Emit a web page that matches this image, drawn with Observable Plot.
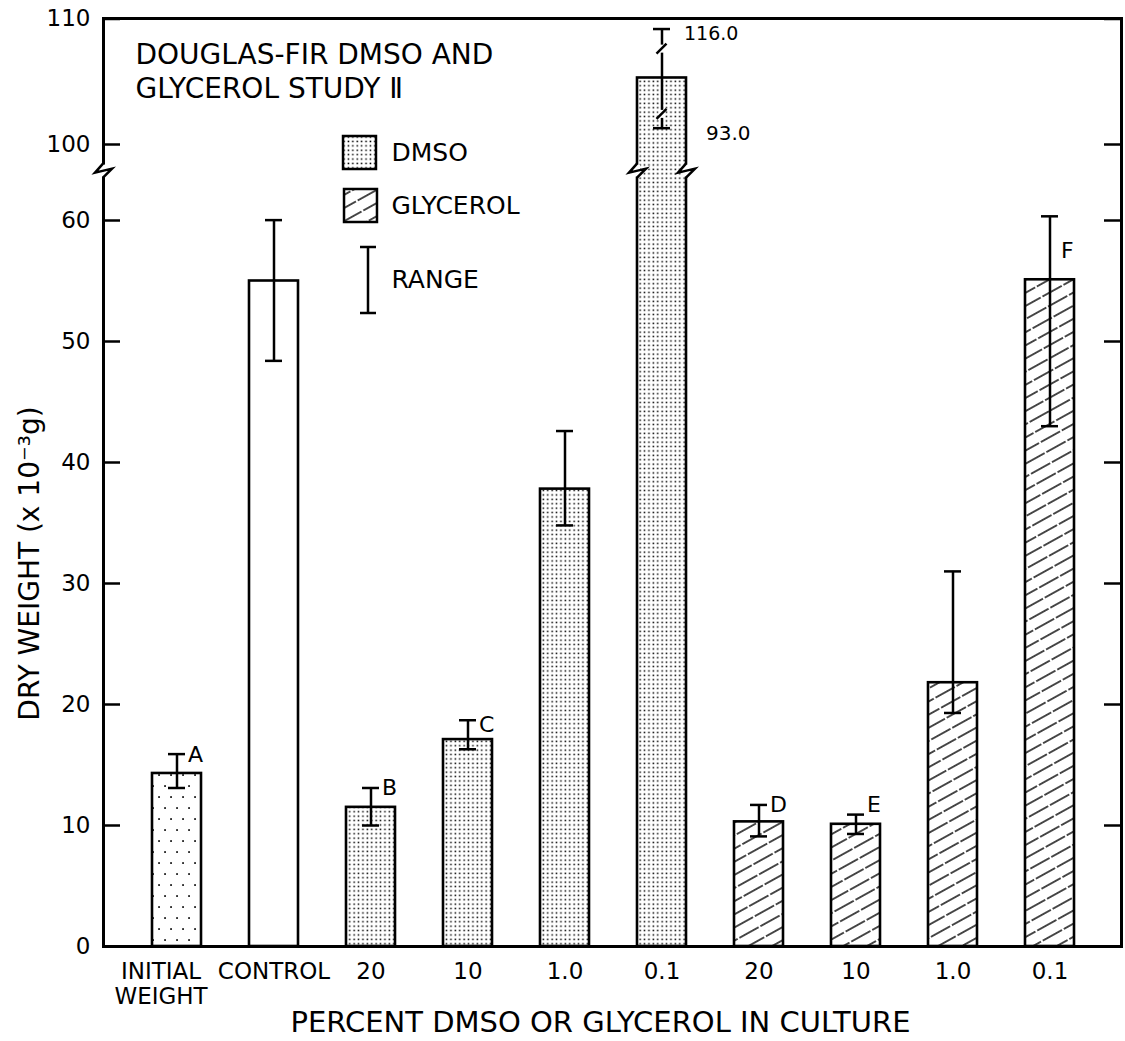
<!DOCTYPE html>
<html><head><meta charset="utf-8">
<script src="https://cdn.jsdelivr.net/npm/d3@7"></script>
<script src="https://cdn.jsdelivr.net/npm/@observablehq/plot@0.6"></script>
<style>
body{margin:0;background:#fff}
</style>
</head><body><div id="chart"></div>
<script>
// ---- data ----
const categories = ["INITIAL WEIGHT","CONTROL","DMSO 20","DMSO 10","DMSO 1.0","DMSO 0.1","GLYCEROL 20","GLYCEROL 10","GLYCEROL 1.0","GLYCEROL 0.1"];
const tickLabels = ["INITIAL\nWEIGHT","CONTROL","20","10","1.0","0.1","20","10","1.0","0.1"];
const treatment = ["initial","control","dmso","dmso","dmso","dmso","glycerol","glycerol","glycerol","glycerol"];
const meanWeight = [14.3,55.0,11.5,17.1,37.8,105.3,10.3,10.1,21.8,55.1];
const rangeLow  = [13.1,48.4,10.0,16.3,34.8,101.3,9.1,9.3,19.3,43.0];
const rangeHigh = [15.9,60.2,13.1,18.7,42.6,109.2,11.7,10.9,31.0,62.2];
const letters = ["A","","B","C","","","D","E","","F"];
const letterY = [15.8,null,13.1,18.3,null,null,11.7,11.7,null,57.5];
const yTicks = [0,10,20,30,40,50,60,100,110];
const yDomain = [0,60,100,110];
const axisBreak = 86;                 // value where the axis is broken
const brokenBars = ["DMSO 0.1"];
const rangeBreaks = [107.6,102.4];     // slashes on the broken range bar
const offScaleNotes = [{key:"DMSO 0.1", y:108.8, label:"116.0"}];
const offScaleNotes2 = [{key:"DMSO 0.1", y:100.9, label:"93.0"}];
const titleText = "DOUGLAS-FIR DMSO AND\nGLYCEROL STUDY \u2161";
const yLabel = "DRY WEIGHT (x 10\u207B\u00B3g)";
const xLabel = "PERCENT DMSO OR GLYCEROL IN CULTURE";
const legendNames = ["DMSO","GLYCEROL","RANGE"];

const data = categories.map((key,i) => ({key, label: tickLabels[i], group: treatment[i],
  mean: meanWeight[i], lo: rangeLow[i], hi: rangeHigh[i], letter: letters[i], letterY: letterY[i]}));
const fills = {initial:"url(#sparse)", control:"#fff", dmso:"url(#dense)", glycerol:"url(#hatch)"};

const W = 1125, H = 1041;
const FONT = '"DejaVu Sans", "Liberation Sans", sans-serif';

// ---- patterns ----
const defsMark = () => {
  const d = d3.create("svg:defs");
  const sp = d.append("pattern").attr("id","sparse").attr("patternUnits","userSpaceOnUse").attr("width",12).attr("height",22);
  sp.append("rect").attr("width",12).attr("height",22).attr("fill","#fff");
  sp.append("rect").attr("x",2.2).attr("y",4.2).attr("width",1.7).attr("height",1.7).attr("fill","#000");
  sp.append("rect").attr("x",8.2).attr("y",15.2).attr("width",1.7).attr("height",1.7).attr("fill","#000");
  const dm = d.append("pattern").attr("id","dense").attr("patternUnits","userSpaceOnUse").attr("width",4.4).attr("height",4.4);
  dm.append("rect").attr("width",4.4).attr("height",4.4).attr("fill","#fff");
  dm.append("rect").attr("x",1.4).attr("y",1.4).attr("width",1.5).attr("height",1.5).attr("fill","#000");
  const gl = d.append("pattern").attr("id","hatch").attr("patternUnits","userSpaceOnUse").attr("width",24).attr("height",11.5).attr("patternTransform","rotate(-29)");
  gl.append("rect").attr("width",24).attr("height",11.5).attr("fill","#fff");
  gl.append("line").attr("x1",0).attr("x2",24).attr("y1",5.75).attr("y2",5.75).attr("stroke","#000").attr("stroke-width",1.4).attr("stroke-dasharray","22,2");
  return d.node();
};

// ---- axis breaks ----
const breaksMark = (index, scales, values, dims) => {
  const g = d3.create("svg:g").attr("fill","none").attr("stroke","#000").attr("stroke-width",2.5);
  const yb = scales.y(axisBreak);
  const bw = scales.x.bandwidth();
  const edges = [dims.marginLeft];
  brokenBars.forEach(k => { const x0 = scales.x(k); edges.push(x0, x0 + bw); });
  for (const x of edges) {
    g.append("rect").attr("x",x-3).attr("y",yb-6).attr("width",6).attr("height",12).attr("fill","#fff").attr("stroke","none");
    g.append("path").attr("d",`M${x},${yb-7}L${x-8},${yb+2}L${x+9},${yb-2}L${x},${yb+7}`);
  }
  brokenBars.forEach(k => {
    const xc = scales.x(k) + bw/2;
    rangeBreaks.forEach(v => {
      const yv = scales.y(v);
      g.append("rect").attr("x",xc-3).attr("y",yv-4).attr("width",6).attr("height",8).attr("fill","#fff").attr("stroke","none");
      g.append("path").attr("d",`M${xc-5},${yv+5}L${xc+5},${yv-5}`);
    });
  });
  return g.node();
};

// ---- legend range symbol ----
const rangeLegend = (index, scales, values, dims) => {
  const g = d3.create("svg:g").attr("fill","none").attr("stroke","#000").attr("stroke-width",2.5);
  const x = dims.marginLeft + 265, y0 = dims.marginTop + 229, y1 = dims.marginTop + 295;
  g.append("path").attr("d",`M${x},${y0}V${y1}M${x-8},${y0}H${x+8}M${x-8},${y1}H${x+8}`);
  return g.node();
};

const plotW = W - 103 - 4;
const tickFmt = d => tickLabels[categories.indexOf(d)];

const chart = Plot.plot({
  width: W, height: H,
  marginTop: 18, marginBottom: H - 946, marginLeft: 103, marginRight: 4,
  style: {fontFamily: FONT, background: "#fff", color: "#000", overflow: "visible"},
  x: {type: "band", domain: categories, range: [125, 1102], paddingInner: 0.49, paddingOuter: 0.245, label: null},
  y: {type: "linear", domain: yDomain, range: [946, 220, 144, 18.5], label: null},
  marks: [
    defsMark,
    ...Object.entries(fills).map(([grp, f]) =>
      Plot.barY(data.filter(d => d.group === grp), {x: "key", y: "mean", fill: f, stroke: "#000", strokeWidth: 2.6})),
    Plot.ruleX(data, {x: "key", y1: "lo", y2: "hi", stroke: "#000", strokeWidth: 2.5}),
    Plot.tickY(data, {x: "key", y: "lo", insetLeft: 16, insetRight: 16, stroke: "#000", strokeWidth: 2.5}),
    Plot.tickY(data, {x: "key", y: "hi", insetLeft: 16, insetRight: 16, stroke: "#000", strokeWidth: 2.5}),
    Plot.text(data.filter(d => d.letter), {x: "key", y: "letterY", text: "letter", dx: 11, textAnchor: "start", fontSize: 22, fill: "#000"}),
    Plot.text(offScaleNotes, {x: "key", y: "y", text: "label", dx: 22, textAnchor: "start", fontSize: 19, fill: "#000"}),
    Plot.text(offScaleNotes2, {x: "key", y: "y", text: "label", dx: 44, textAnchor: "start", fontSize: 20, fill: "#000"}),
    Plot.frame({stroke: "#000", strokeWidth: 3}),
    Plot.tickY(yTicks, {y: d => d, insetRight: plotW - 17, stroke: "#000", strokeWidth: 2.5}),
    Plot.tickY(yTicks, {y: d => d, insetLeft: plotW - 17, stroke: "#000", strokeWidth: 2.5}),
    Plot.axisY({ticks: yTicks, tickSize: 0, tickPadding: 13, fontSize: 23, tickFormat: d => String(d)}),
    Plot.axisX(categories.slice(0, 1), {tickSize: 0, tickPadding: 15, dx: -16, fontSize: 23, lineHeight: 1.08, tickFormat: tickFmt}),
    Plot.axisX(categories.slice(1), {tickSize: 0, tickPadding: 15, fontSize: 23, lineHeight: 1.08, tickFormat: tickFmt}),
    breaksMark,
    Plot.text([titleText], {text: d => d, frameAnchor: "top-left", dx: 32, dy: 22, textAnchor: "start", lineAnchor: "top", fontSize: 28, lineHeight: 1.2, fill: "#000"}),
    Plot.dot([0], {frameAnchor: "top-left", dx: 256, dy: 134, symbol: "square", r: 18.6, fill: "url(#dense)", stroke: "#000", strokeWidth: 2.5}),
    Plot.dot([1], {frameAnchor: "top-left", dx: 257, dy: 187, symbol: "square", r: 18.6, fill: "url(#hatch)", stroke: "#000", strokeWidth: 2.5}),
    Plot.text([legendNames[0]], {text: d => d, frameAnchor: "top-left", dx: 288, dy: 134, textAnchor: "start", lineAnchor: "middle", fontSize: 25, fill: "#000"}),
    Plot.text([legendNames[1]], {text: d => d, frameAnchor: "top-left", dx: 288, dy: 187, textAnchor: "start", lineAnchor: "middle", fontSize: 25, fill: "#000"}),
    Plot.text([legendNames[2]], {text: d => d, frameAnchor: "top-left", dx: 288, dy: 261, textAnchor: "start", lineAnchor: "middle", fontSize: 25, fill: "#000"}),
    rangeLegend,
    Plot.text([yLabel], {text: d => d, frameAnchor: "left", dx: -73, dy: 81, rotate: -90, textAnchor: "middle", lineAnchor: "middle", fontSize: 28, fill: "#000"}),
    Plot.text([xLabel], {text: d => d, frameAnchor: "bottom", dx: -12, dy: 76, textAnchor: "middle", lineAnchor: "middle", fontSize: 29, fill: "#000"})
  ]
});
document.getElementById("chart").appendChild(chart);
</script>
</body></html>
